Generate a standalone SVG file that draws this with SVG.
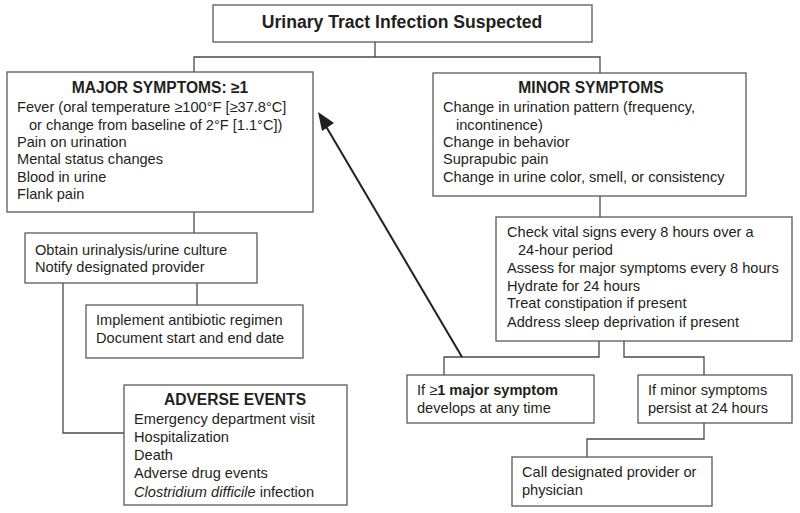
<svg xmlns="http://www.w3.org/2000/svg" width="800" height="513" viewBox="0 0 800 513">
<style>
.box{fill:#fff;stroke:#5a5a5a;stroke-width:1.3}
.ln{fill:none;stroke:#4a4a4a;stroke-width:1.3}
text{font-family:"Liberation Sans",Arial,sans-serif;font-size:14.6px;fill:#231f20}
.b{font-weight:bold}
.t{font-size:15.6px;font-weight:bold}
.c{text-anchor:middle}
</style>
<rect width="800" height="513" fill="#fff"/>
<g id="connectors">
<path class="ln" d="M375,42 V57 M194,72 V57 H600 V73"/>
<path class="ln" d="M194,212 V233"/>
<path class="ln" d="M600,196 V217"/>
<path class="ln" d="M197,283 V305"/>
<path class="ln" d="M63,283 V433 H124"/>
<path class="ln" d="M599,341 V357 H444 V375"/>
<path class="ln" d="M624,341 V357 H704 V375"/>
<path class="ln" d="M704,423 V439 H587 V457"/>
<line x1="462" y1="357" x2="324" y2="123" stroke="#231f20" stroke-width="2"/>
<path d="M318,112 L334,123 L322,131 z" fill="#231f20"/>
</g>
<g id="title">
<rect class="box" x="213" y="5" width="379" height="37"/>
<text class="t c" x="402" y="28" style="font-size:17.6px">Urinary Tract Infection Suspected</text>
</g>
<g id="major">
<rect class="box" x="7" y="72" width="306" height="140"/>
<text class="t c" x="160" y="93">MAJOR SYMPTOMS: ≥1</text>
<text x="17" y="112">Fever (oral temperature ≥100°F [≥37.8°C]</text>
<text x="29" y="130">or change from baseline of 2°F [1.1°C])</text>
<text x="17" y="147">Pain on urination</text>
<text x="17" y="164">Mental status changes</text>
<text x="17" y="182">Blood in urine</text>
<text x="17" y="199">Flank pain</text>
</g>
<g id="minor">
<rect class="box" x="433" y="73" width="313" height="123"/>
<text class="t c" x="591" y="93">MINOR SYMPTOMS</text>
<text x="443" y="112">Change in urination pattern (frequency,</text>
<text x="456" y="130">incontinence)</text>
<text x="443" y="147">Change in behavior</text>
<text x="443" y="164">Suprapubic pain</text>
<text x="443" y="182">Change in urine color, smell, or consistency</text>
</g>
<g id="obtain">
<rect class="box" x="25" y="233" width="232" height="50"/>
<text x="35" y="255">Obtain urinalysis/urine culture</text>
<text x="35" y="272">Notify designated provider</text>
</g>
<g id="implement">
<rect class="box" x="86" y="305" width="217" height="53"/>
<text x="96" y="325">Implement antibiotic regimen</text>
<text x="96" y="343">Document start and end date</text>
</g>
<g id="adverse">
<rect class="box" x="124" y="385" width="223" height="120"/>
<text class="t c" x="235" y="405">ADVERSE EVENTS</text>
<text x="134" y="424">Emergency department visit</text>
<text x="134" y="442">Hospitalization</text>
<text x="134" y="460">Death</text>
<text x="134" y="478">Adverse drug events</text>
<text x="134" y="497"><tspan font-style="italic">Clostridium difficile</tspan> infection</text>
</g>
<g id="vitals">
<rect class="box" x="496" y="217" width="296" height="124"/>
<text x="507" y="237">Check vital signs every 8 hours over a</text>
<text x="518" y="255">24-hour period</text>
<text x="507" y="273">Assess for major symptoms every 8 hours</text>
<text x="507" y="291">Hydrate for 24 hours</text>
<text x="507" y="308">Treat constipation if present</text>
<text x="507" y="327">Address sleep deprivation if present</text>
</g>
<g id="ifmajor">
<rect class="box" x="407" y="375" width="187" height="48"/>
<text x="417" y="395">If ≥<tspan class="b">1 major symptom</tspan></text>
<text x="417" y="413">develops at any time</text>
</g>
<g id="ifminor">
<rect class="box" x="638" y="375" width="154" height="48"/>
<text x="648" y="395">If minor symptoms</text>
<text x="648" y="413">persist at 24 hours</text>
</g>
<g id="call">
<rect class="box" x="512" y="457" width="200" height="49"/>
<text x="522" y="477">Call designated provider or</text>
<text x="522" y="495">physician</text>
</g>
</svg>
